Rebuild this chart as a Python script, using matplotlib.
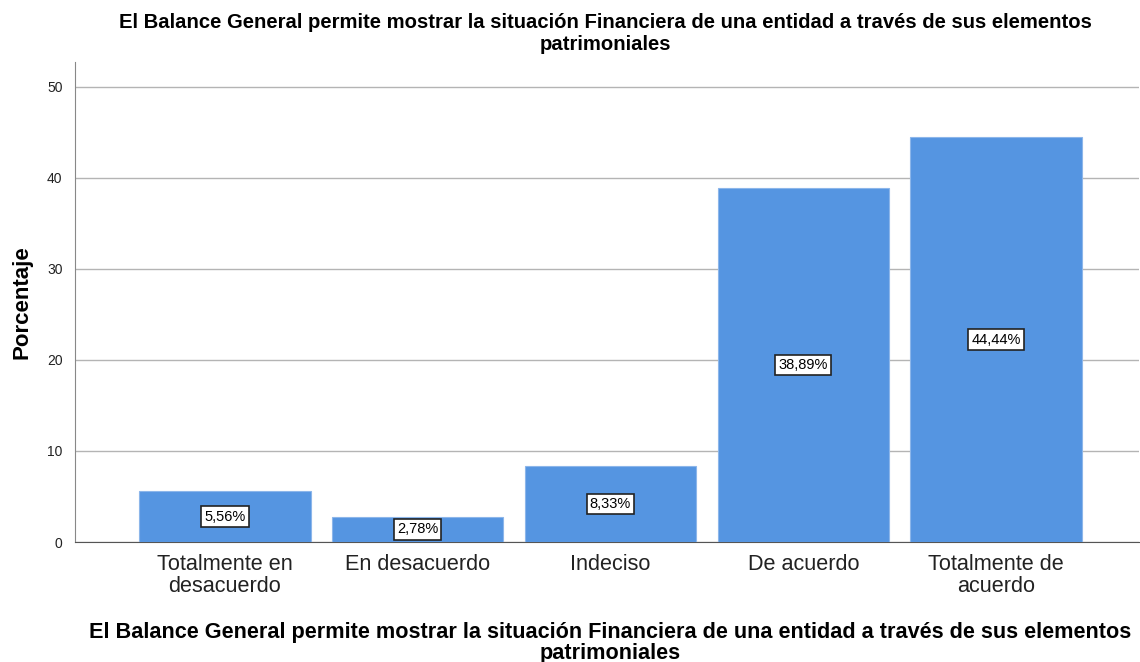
import numpy as np
import matplotlib.pyplot as plt

# ============================================================
# Data
# ============================================================

categories = ["Totalmente en\ndesacuerdo", "En desacuerdo", "Indeciso",
              "De acuerdo", "Totalmente de\nacuerdo"]
percentages = [5.56, 2.78, 8.33, 38.89, 44.44]
bar_labels = ["5,56%", "2,78%", "8,33%", "38,89%", "44,44%"]
y_ticks = [0, 10, 20, 30, 40, 50]

title_text = ("El Balance General permite mostrar la situación Financiera de una entidad a través de sus elementos\n"
              "patrimoniales")

plt.rcParams['font.family'] = ['Liberation Sans', 'DejaVu Sans']

# ============================================================
# Figure
# ============================================================

fig = plt.figure(figsize=(11.4, 6.62), dpi=100)
ax = fig.add_axes([75 / 1140, 1 - 542 / 662, 1 - 75 / 1140 - 0.001, (542 - 62) / 662])

x = np.arange(len(categories))
ax.bar(x, percentages, width=0.89, color='#5595e1', edgecolor='#8cb6ea',
       linewidth=0.8, zorder=3)

for xi, val, lab in zip(x, percentages, bar_labels):
    ax.text(xi, val / 2, lab, ha='center', va='center', fontsize=10.5, zorder=4,
            bbox=dict(boxstyle='square,pad=0.22', facecolor='white',
                      edgecolor='#222222', linewidth=1.2))

ax.set_xlim(-0.777, 4.74)
ax.set_ylim(0, 52.7)
ax.set_yticks(y_ticks)
ax.set_yticklabels([str(t) for t in y_ticks], fontsize=10, color='#222222')
ax.set_xticks(x)
ax.set_xticklabels(categories, fontsize=15.6, color='#222222', linespacing=1.02)
ax.tick_params(axis='x', length=0, pad=9)
ax.tick_params(axis='y', length=0, pad=9)

ax.yaxis.grid(True, color='#b4b4b4', linewidth=1.0, zorder=0)
ax.set_axisbelow(True)
for s in ['top', 'right']:
    ax.spines[s].set_visible(False)
ax.spines['left'].set_color('#888888')
ax.spines['bottom'].set_color('#555555')

fig.text(0.019, 1 - 302 / 662, "Porcentaje", rotation=90, ha='center', va='center',
         fontsize=16, fontweight='bold')
fig.text(0.531, 1 - 33 / 662, title_text, ha='center', va='center',
         fontsize=14.6, fontweight='bold', linespacing=1.2)
fig.text(0.535, 1 - 643 / 662, title_text, ha='center', va='center',
         fontsize=15.6, fontweight='bold', linespacing=0.95)

fig.savefig("out.png", dpi=100)
